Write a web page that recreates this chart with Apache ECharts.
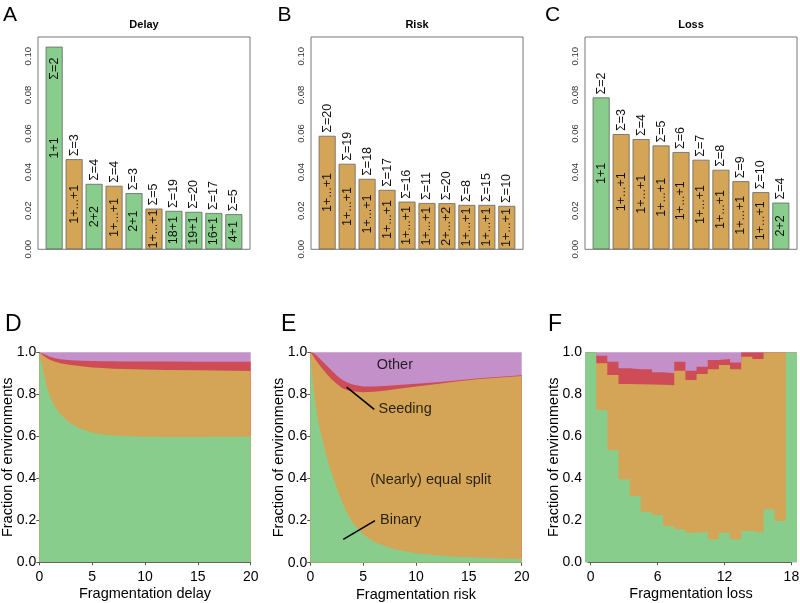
<!DOCTYPE html>
<html>
<head>
<meta charset="utf-8">
<script src="https://cdn.jsdelivr.net/npm/echarts@6.0.0/dist/echarts.min.js"></script>
<style>
  html, body { margin: 0; padding: 0; background: #fff; }
  #chart { width: 800px; height: 603px; }
</style>
</head>
<body>
<div id="chart"></div>
<script>
const FONT = '"Liberation Sans", Arial, Helvetica, sans-serif';
const GREEN = '#88CD8C';
const ORANGE = '#D4A556';
const RED = '#CE4C56';
const PURPLE = '#C390CA';

// top row: most frequent strategies
const delayValues = [0.105, 0.0467, 0.0339, 0.0329, 0.0291, 0.0211, 0.0199, 0.0194, 0.0188, 0.0182];
const delayKinds = ['bin', 'eq', 'bin', 'eq', 'bin', 'eq', 'bin', 'bin', 'bin', 'bin'];
const delayInner = ['1+1', '1+...+1', '2+2', '1+...+1', '2+1', '1+...+1', '18+1', '19+1', '16+1', '4+1'];
const delaySums = ['Σ=2', 'Σ=3', 'Σ=4', 'Σ=4', 'Σ=3', 'Σ=5', 'Σ=19', 'Σ=20', 'Σ=17', 'Σ=5'];

const riskValues = [0.0588, 0.0443, 0.0365, 0.0308, 0.0247, 0.0240, 0.0239, 0.0230, 0.0230, 0.0225];
const riskKinds = ['eq', 'eq', 'eq', 'eq', 'eq', 'eq', 'eq', 'eq', 'eq', 'eq'];
const riskInner = ['1+...+1', '1+...+1', '1+...+1', '1+...+1', '1+...+1', '1+...+1', '2+...+2', '1+...+1', '1+...+1', '1+...+1'];
const riskSums = ['Σ=20', 'Σ=19', 'Σ=18', 'Σ=17', 'Σ=16', 'Σ=11', 'Σ=20', 'Σ=8', 'Σ=15', 'Σ=10'];

const lossValues = [0.0787, 0.0597, 0.0571, 0.0538, 0.0504, 0.0464, 0.0412, 0.0353, 0.0296, 0.0242];
const lossKinds = ['bin', 'eq', 'eq', 'eq', 'eq', 'eq', 'eq', 'eq', 'eq', 'bin'];
const lossInner = ['1+1', '1+...+1', '1+...+1', '1+...+1', '1+...+1', '1+...+1', '1+...+1', '1+...+1', '1+...+1', '2+2'];
const lossSums = ['Σ=2', 'Σ=3', 'Σ=4', 'Σ=5', 'Σ=6', 'Σ=7', 'Σ=8', 'Σ=9', 'Σ=10', 'Σ=4'];

const barTicks = [0, 0.02, 0.04, 0.06, 0.08, 0.10];

// bottom row: upper boundaries of the stacked classes (binary, equal split, seeding; the rest is "other")
const delayX = [0, 0.25, 0.5, 0.75, 1, 1.5, 2, 2.5, 3, 4, 5, 6, 7, 8, 10, 12, 15, 20];
const delayBinary = [1.0, 0.94, 0.88, 0.83, 0.79, 0.74, 0.705, 0.68, 0.66, 0.635, 0.617, 0.609, 0.604, 0.601, 0.598, 0.597, 0.597, 0.599];
const delayEqualTop = [1.0, 0.99, 0.98, 0.972, 0.965, 0.955, 0.948, 0.943, 0.94, 0.933, 0.928, 0.925, 0.922, 0.92, 0.918, 0.916, 0.914, 0.911];
const delaySeedTop = [1.0, 0.995, 0.99, 0.985, 0.979, 0.972, 0.967, 0.964, 0.962, 0.96, 0.958, 0.957, 0.957, 0.956, 0.956, 0.956, 0.955, 0.955];

const riskX = [0, 0.25, 0.5, 0.75, 1, 1.5, 2, 2.5, 3, 3.5, 4, 5, 6, 7, 8, 10, 12, 14, 16, 18, 20];
const riskBinary = [1.0, 0.85, 0.75, 0.67, 0.615, 0.51, 0.43, 0.355, 0.29, 0.235, 0.19, 0.135, 0.10, 0.08, 0.064, 0.045, 0.035, 0.027, 0.023, 0.02, 0.017];
const riskEqualTop = [1.0, 0.985, 0.965, 0.948, 0.93, 0.90, 0.872, 0.85, 0.83, 0.82, 0.815, 0.81, 0.812, 0.817, 0.824, 0.837, 0.849, 0.862, 0.873, 0.88, 0.887];
const riskSeedTop = [1.0, 0.998, 0.99, 0.978, 0.965, 0.94, 0.915, 0.89, 0.87, 0.856, 0.847, 0.838, 0.837, 0.84, 0.843, 0.85, 0.858, 0.867, 0.877, 0.884, 0.891];

const lossX = [0, 1, 2, 3, 4, 5, 6, 7, 8, 9, 10, 11, 12, 13, 14, 15, 16, 17, 18];
const lossBinary = [1.0, 0.725, 0.535, 0.395, 0.316, 0.241, 0.225, 0.173, 0.157, 0.141, 0.146, 0.11, 0.141, 0.11, 0.149, 0.141, 0.252, 0.197, 1.0];
const lossEqualTop = [1.0, 0.948, 0.892, 0.849, 0.848, 0.847, 0.845, 0.843, 0.912, 0.868, 0.897, 0.919, 0.94, 0.919, 0.979, 0.968, 1.0, 1.0, 1.0];
const lossSeedTop = [1.0, 0.984, 0.955, 0.924, 0.919, 0.919, 0.905, 0.9, 0.955, 0.912, 0.931, 0.963, 0.968, 0.951, 1.0, 1.0, 1.0, 1.0, 1.0];

// annotations in panel E
const riskNotes = [
  { name: 'Other', value: [8, 0.94], align: 'center' },
  { name: 'Seeding', value: [6.45, 0.729], align: 'left' },
  { name: '(Nearly) equal split', value: [11.4, 0.393], align: 'center' },
  { name: 'Binary', value: [6.6, 0.203], align: 'left' }
];
const seedingPointer = [[3.44, 0.834], [6.05, 0.729]];
const binaryPointer = [[3.12, 0.111], [6.12, 0.2]];

const topGrids = [38, 311, 585];

function barSeries(idx, values, kinds, inner, sums) {
  const pts = values.map((v, i) => [0.7 + 1.2 * i, v]);
  const labelBase = { show: true, rotate: 90, fontSize: 12.5, fontFamily: FONT, color: '#111' };
  return [
    {
      type: 'bar', xAxisIndex: idx, yAxisIndex: idx, barWidth: 17, barGap: '-100%', silent: true,
      itemStyle: { borderColor: '#666', borderWidth: 0.8 },
      data: pts.map((p, i) => ({ value: p, itemStyle: { color: kinds[i] === 'bin' ? GREEN : ORANGE } })),
      label: Object.assign({}, labelBase, {
        position: 'inside', align: 'center', verticalAlign: 'middle',
        formatter: (p) => inner[p.dataIndex]
      })
    },
    {
      type: 'bar', xAxisIndex: idx, yAxisIndex: idx, barWidth: 17, barGap: '-100%', silent: true,
      itemStyle: { color: 'rgba(0,0,0,0)' },
      data: pts.map((p) => {
        const d = { value: p };
        // no room above the tallest bar, the sum goes inside
        if (p[1] > 0.095) d.label = { position: 'insideTop', distance: 11, align: 'right' };
        return d;
      }),
      label: Object.assign({}, labelBase, {
        position: 'top', distance: 3, align: 'left', verticalAlign: 'middle',
        formatter: (p) => sums[p.dataIndex]
      })
    }
  ];
}

// each class drawn from 0 up to its cumulative boundary, top class first;
// the purple "other" remainder is the grid background
function areaSeries(idx, xs, bin, eqTop, seedTop, stepped) {
  const layers = [[RED, seedTop], [ORANGE, eqTop], [GREEN, bin]];
  return layers.map(([color, vals]) => {
    let data;
    if (stepped) {
      data = xs.map((x, i) => [x - 0.5, vals[i]]);
      data.push([xs[xs.length - 1] + 0.5, vals[vals.length - 1]]);
    } else {
      data = xs.map((x, i) => [x, vals[i]]);
    }
    return {
      type: 'line', xAxisIndex: idx, yAxisIndex: idx,
      step: stepped ? 'end' : false, symbol: 'none', silent: true,
      lineStyle: { width: 0 }, areaStyle: { color: color, opacity: 1, origin: 'start' },
      data: data
    };
  });
}

const axisText = { fontSize: 14, color: '#000', fontFamily: FONT };

function bottomX(gridIndex, name, min, max, interval) {
  return {
    type: 'value', gridIndex: gridIndex, min: min, max: max, interval: interval, offset: 1.5,
    name: name, nameLocation: 'middle', nameGap: 23, nameMoveOverlap: false,
    nameTextStyle: Object.assign({}, axisText, { fontSize: 14.5 }),
    axisLine: { show: true, lineStyle: { color: '#555', width: 1 } },
    axisTick: { show: true, length: 3, lineStyle: { color: '#555' } },
    axisLabel: Object.assign({ margin: 6 }, axisText),
    splitLine: { show: false }
  };
}

function bottomY(gridIndex) {
  return {
    type: 'value', gridIndex: gridIndex, min: 0, max: 1, interval: 0.2,
    name: 'Fraction of environments', nameLocation: 'middle', nameGap: 23.5, nameMoveOverlap: false,
    nameTextStyle: Object.assign({}, axisText, { fontSize: 14.5 }),
    axisLine: { show: true, lineStyle: { color: '#555', width: 1 } },
    axisTick: { show: true, length: 3, lineStyle: { color: '#555' } },
    axisLabel: Object.assign({ margin: 3, formatter: (v) => v.toFixed(1) }, axisText),
    splitLine: { show: false }
  };
}

function topY(gridIndex) {
  return {
    type: 'value', gridIndex: gridIndex, min: 0, max: 0.11,
    axisLine: { show: false }, axisTick: { show: false }, splitLine: { show: false },
    axisLabel: {
      customValues: barTicks, rotate: 90, margin: 5, fontSize: 9.5, color: '#333', fontFamily: FONT,
      formatter: (v) => v.toFixed(2)
    }
  };
}

const grids = [];
topGrids.forEach((left) => grids.push({
  left: left, top: 37, width: 212, height: 212.3, show: true,
  borderColor: '#777', borderWidth: 1, backgroundColor: 'transparent', outerBoundsMode: 'none'
}));
const areaGrid = { show: true, backgroundColor: PURPLE, borderWidth: 0, outerBoundsMode: 'none' };
grids.push(Object.assign({ left: 39.3, top: 352.3, width: 211.4, height: 210 }, areaGrid));
grids.push(Object.assign({ left: 310.3, top: 352.3, width: 211.4, height: 210.4 }, areaGrid));
grids.push(Object.assign({ left: 585, top: 352.3, width: 212, height: 210 }, areaGrid));
// axis-only grid for panel F (axis runs from 0 to 18 only)
grids.push({ left: 590.6, top: 352.3, width: 200.8, height: 210, outerBoundsMode: 'none' });

const xAxes = [0, 1, 2].map((i) => ({ type: 'value', gridIndex: i, min: -0.272, max: 12.472, show: false }));
xAxes.push(bottomX(3, 'Fragmentation delay', 0, 20, 5));
xAxes.push(bottomX(4, 'Fragmentation risk', 0, 20, 5));
xAxes.push({ type: 'value', gridIndex: 5, min: -0.5, max: 18.5, show: false });
xAxes.push(bottomX(6, 'Fragmentation loss', 0, 18, 6));

const yAxes = [0, 1, 2].map((i) => topY(i));
yAxes.push(bottomY(3), bottomY(4), bottomY(5));
yAxes.push({ type: 'value', gridIndex: 6, min: 0, max: 1, show: false });

const series = []
  .concat(barSeries(0, delayValues, delayKinds, delayInner, delaySums))
  .concat(barSeries(1, riskValues, riskKinds, riskInner, riskSums))
  .concat(barSeries(2, lossValues, lossKinds, lossInner, lossSums))
  .concat(areaSeries(3, delayX, delayBinary, delayEqualTop, delaySeedTop, false))
  .concat(areaSeries(4, riskX, riskBinary, riskEqualTop, riskSeedTop, false))
  .concat(areaSeries(5, lossX, lossBinary, lossEqualTop, lossSeedTop, true));

[seedingPointer, binaryPointer].forEach((seg) => series.push({
  type: 'line', xAxisIndex: 4, yAxisIndex: 4, symbol: 'none', silent: true, z: 5,
  lineStyle: { color: '#000', width: 1.6 }, data: seg
}));

series.push({
  type: 'scatter', xAxisIndex: 4, yAxisIndex: 4, symbol: 'circle', symbolSize: 2, silent: true, z: 6,
  itemStyle: { color: 'rgba(0,0,0,0)' },
  data: riskNotes.map((n) => ({ name: n.name, value: n.value, label: { align: n.align } })),
  label: {
    show: true, position: 'inside', verticalAlign: 'middle', formatter: (p) => p.name,
    fontSize: 14.5, color: '#000', fontFamily: FONT
  }
});

function txt(text, x, y, size, weight, align) {
  return {
    type: 'text', x: x, y: y, silent: true,
    style: {
      text: text, fontSize: size, fontWeight: weight, fontFamily: FONT, fill: '#000',
      align: align, textAlign: align, verticalAlign: 'middle', textVerticalAlign: 'middle'
    }
  };
}

const graphics = [
  txt('A', 3, 15.5, 21, 'normal', 'left'),
  txt('B', 277.5, 15.5, 21, 'normal', 'left'),
  txt('C', 545, 15.5, 21, 'normal', 'left'),
  txt('D', 5, 325, 23, 'normal', 'left'),
  txt('E', 281, 325, 23, 'normal', 'left'),
  txt('F', 548, 325, 23, 'normal', 'left'),
  txt('Delay', 144, 24.5, 11, 'bold', 'center'),
  txt('Risk', 417, 24.5, 11, 'bold', 'center'),
  txt('Loss', 691, 24.5, 11, 'bold', 'center')
];

const chart = echarts.init(document.getElementById('chart'), null, { renderer: 'canvas' });
chart.setOption({
  animation: false,
  backgroundColor: '#fff',
  textStyle: { fontFamily: FONT },
  grid: grids,
  xAxis: xAxes,
  yAxis: yAxes,
  series: series,
  graphic: graphics
});
</script>
</body>
</html>
